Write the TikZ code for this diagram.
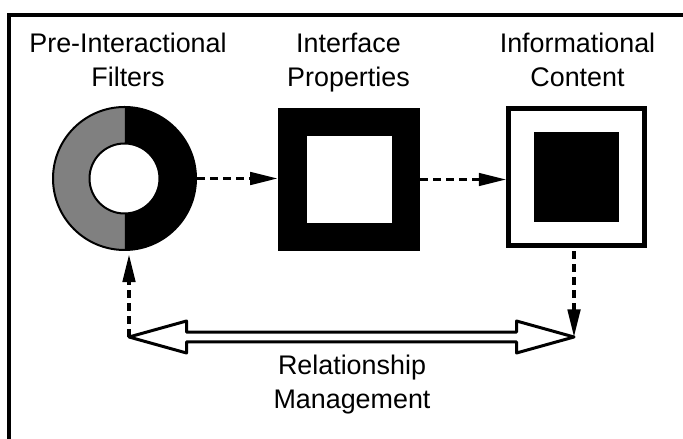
\documentclass[tikz,border=0pt]{standalone}
\usepackage{fontspec}
\setmainfont{Liberation Sans}
\usetikzlibrary{calc,arrows.meta}

\definecolor{filtergray}{gray}{0.5}

\begin{document}
\begin{tikzpicture}[
 label/.style={font=\fontsize{15.3}{19}\selectfont,align=center,inner sep=0,anchor=north},
 frame/.style={black,line width=0.08cm,line join=miter},
 ring/.style={circle,draw,line width=0.04cm,minimum size=2.86cm,inner sep=0},
 hole/.style={circle,draw,fill=white,line width=0.04cm,minimum size=1.40cm,inner sep=0},
 flow/.style={black,line width=0.065cm,dash pattern=on 0.16cm off 0.1cm,-{Triangle[length=0.55cm,width=0.25cm]}},
 hollow/.style={draw,fill=white,line width=0.06cm,line join=round},
]
\useasboundingbox (0, 0) rectangle (13.66, 8.78);

% Frame
\draw[frame] (0.18, 0) -- (0.18, 8.47) -- (13.66, 8.47);

% Filters ring
\coordinate (rc) at (2.49, 5.21);
\fill[filtergray] (rc) ++(90:1.43) arc[start angle=90, end angle=270, radius=1.43] -- cycle;
\fill[black] (rc) ++(-90:1.43) arc[start angle=-90, end angle=90, radius=1.43] -- cycle;
\node[ring] (filters) at (rc) {};
\node[hole] (hole) at (rc) {};

% Interface square
\node[fill=black,minimum width=2.84cm,minimum height=2.86cm,inner sep=0] (iface) at (6.98, 5.19) {};
\node[fill=white,minimum width=1.70cm,minimum height=1.74cm,inner sep=0] (ifacein) at (iface) {};

% Content square
\node[draw,line width=0.09cm,minimum width=2.72cm,minimum height=2.74cm,inner sep=0] (info) at (11.53, 5.24) {};
\node[fill=black,minimum width=1.70cm,minimum height=1.80cm,inner sep=0] (infoin) at (info) {};

% Labels
\node[label] (lfilters) at (2.56, 8.12) {Pre-Interactional\\Filters};
\node[label] (liface) at (6.97, 8.12) {Interface\\Properties};
\node[label] (linfo) at (11.55, 8.12) {Informational\\Content};

% Relationship management
\coordinate (mgmtL) at (2.58, 2.04);
\coordinate (mgmtR) at (11.48, 2.04);
\draw[hollow] (mgmtL) -- ($(mgmtL) + (1.15, 0.32)$) -- ($(mgmtL) + (1.15, 0.096)$)
    -- ($(mgmtR) + (-1.15, 0.096)$) -- ($(mgmtR) + (-1.15, 0.32)$) -- (mgmtR)
    -- ($(mgmtR) + (-1.15, -0.32)$) -- ($(mgmtR) + (-1.15, -0.096)$)
    -- ($(mgmtL) + (1.15, -0.096)$) -- ($(mgmtL) + (1.15, -0.32)$) -- cycle;
\node[label] (rel) at (7.04, 1.68) {Relationship\\Management};

% Flow arrows
\draw[flow] (filters.east) -- (filters.east -| iface.west);
\draw[flow] (iface.east) -- (iface.east -| info.west);
\draw[flow,shorten <=2pt] (info.south -| mgmtR) -- (mgmtR);
\draw[flow,shorten >=2pt] (mgmtL) -- (mgmtL |- filters.south);

\end{tikzpicture}
\end{document}
